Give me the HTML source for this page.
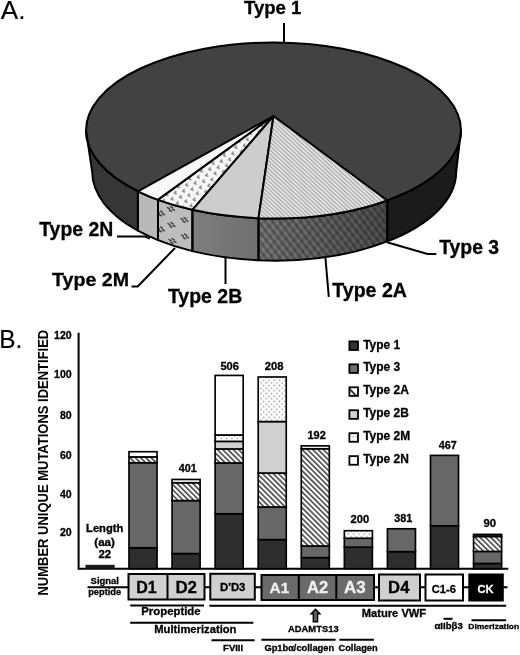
<!DOCTYPE html>
<html><head><meta charset="utf-8"><style>
html,body{margin:0;padding:0;background:#fff;width:520px;height:655px;overflow:hidden}
svg{display:block;font-family:"Liberation Sans",sans-serif;filter:grayscale(1) blur(0.35px)}
</style></head><body>
<svg width="520" height="655" viewBox="0 0 520 655">
<defs>
<pattern id="hatchTop" patternUnits="userSpaceOnUse" width="2.95" height="2.95" patternTransform="rotate(-47)">
  <rect width="2.95" height="2.95" fill="#f0f0f0"/><rect width="1.4" height="2.95" fill="#a6a6a6"/>
</pattern>
<pattern id="hatchSide" patternUnits="userSpaceOnUse" width="5.5" height="5.5" patternTransform="rotate(-38)">
  <rect width="5.5" height="5.5" fill="none"/><rect width="2.6" height="5.5" fill="rgba(0,0,0,0.26)"/>
</pattern>
<pattern id="hatchSide2" patternUnits="userSpaceOnUse" width="7" height="7" patternTransform="rotate(40)">
  <rect width="3.2" height="7" fill="rgba(0,0,0,0.12)"/>
</pattern>
<linearGradient id="g2A" gradientUnits="userSpaceOnUse" x1="258" y1="0" x2="386" y2="0">
  <stop offset="0" stop-color="#7a7a7a"/><stop offset="1" stop-color="#505050"/>
</linearGradient>
<linearGradient id="g2B" gradientUnits="userSpaceOnUse" x1="193" y1="0" x2="258" y2="0">
  <stop offset="0" stop-color="#7e7e7e"/><stop offset="1" stop-color="#6f6f6f"/>
</linearGradient>
<pattern id="dotTop" patternUnits="userSpaceOnUse" width="8.6" height="10.6" patternTransform="rotate(-12)">
  <rect width="8.6" height="10.6" fill="#f7f7f7"/><path d="M3.6 0.8 L1.4 2.4 L3.6 4.0 M7.9 6.1 L5.7 7.7 L7.9 9.3" stroke="#7e7e7e" stroke-width="1.3" fill="none"/>
</pattern>
<pattern id="legHatch" patternUnits="userSpaceOnUse" width="12" height="12" patternTransform="translate(349.4,0) rotate(-45)">
  <rect width="12" height="12" fill="#ffffff"/><rect width="2" height="12" fill="#3a3a3a"/>
</pattern>
<pattern id="legDots" patternUnits="userSpaceOnUse" width="4" height="4">
  <rect width="4" height="4" fill="#ffffff"/><circle cx="1" cy="1" r="0.8" fill="#999"/>
</pattern>
<pattern id="barHatch" patternUnits="userSpaceOnUse" width="3.75" height="3.75" patternTransform="rotate(-45)">
  <rect width="3.75" height="3.75" fill="#ffffff"/><rect width="1.45" height="3.75" fill="#333"/>
</pattern>
<pattern id="barDots" patternUnits="userSpaceOnUse" width="5.3" height="5.3">
  <rect width="5.3" height="5.3" fill="#ffffff"/><circle cx="1.3" cy="1.3" r="0.9" fill="#a0a0a0"/><circle cx="3.95" cy="3.95" r="0.9" fill="#a0a0a0"/>
</pattern>
</defs>
<rect width="520" height="655" fill="#fff"/>
<ellipse cx="273.5" cy="130.5" rx="187.5" ry="88.0" fill="#424242" stroke="#000" stroke-width="2.0"/>
<path d="M86.00,130.50 A187.5,88.0 0 0 0 137.90,191.28 L137.90,230.65 A182.0,88.8 0 0 1 92.20,171.80 Z" fill="#363636"/>
<path d="M137.90,191.28 A187.5,88.0 0 0 0 158.00,199.82 L158.00,240.15 A182.0,88.8 0 0 1 137.90,230.65 Z" fill="#b9b9b9"/>
<path d="M158.00,199.82 A187.5,88.0 0 0 0 192.40,209.84 L192.40,251.13 A182.0,88.8 0 0 1 158.00,240.15 Z" fill="#bdbdbd"/>
<path d="M192.40,209.84 A187.5,88.0 0 0 0 258.50,218.22 L258.50,260.27 A182.0,88.8 0 0 1 192.40,251.13 Z" fill="url(#g2B)"/>
<path d="M258.50,218.22 A187.5,88.0 0 0 0 387.30,200.44 L387.30,241.37 A182.0,88.8 0 0 1 258.50,260.27 Z" fill="url(#g2A)"/>
<path d="M387.30,200.44 A187.5,88.0 0 0 0 461.00,130.50 L456.20,171.80 A182.0,88.8 0 0 1 387.30,241.37 Z" fill="#1b1b1b"/>
<path d="M258.50,218.22 A187.5,88.0 0 0 0 387.30,200.44 L387.30,241.37 A182.0,88.8 0 0 1 258.50,260.27 Z" fill="url(#hatchSide)"/>
<path d="M258.50,218.22 A187.5,88.0 0 0 0 387.30,200.44 L387.30,241.37 A182.0,88.8 0 0 1 258.50,260.27 Z" fill="url(#hatchSide2)"/>
<clipPath id="c2M"><path d="M158.00,199.82 A187.5,88.0 0 0 0 192.40,209.84 L192.40,251.13 A182.0,88.8 0 0 1 158.00,240.15 Z"/></clipPath>
<path clip-path="url(#c2M)" d="M157.4,212.0 l2,1.2 M160.4,211.0 l2,1.2 M159.4,214.6 l2,1.2 M162.4,213.6 l2,1.2 M167.4,207.5 l2,1.2 M170.4,206.5 l2,1.2 M169.4,210.1 l2,1.2 M172.4,209.1 l2,1.2 M167.9,223.5 l2,1.2 M170.9,222.5 l2,1.2 M169.9,226.1 l2,1.2 M172.9,225.1 l2,1.2 M168.9,239.5 l2,1.2 M171.9,238.5 l2,1.2 M170.9,242.1 l2,1.2 M173.9,241.1 l2,1.2 M180.9,218.5 l2,1.2 M183.9,217.5 l2,1.2 M182.9,221.1 l2,1.2 M185.9,220.1 l2,1.2 M181.4,235.0 l2,1.2 M184.4,234.0 l2,1.2 M183.4,237.6 l2,1.2 M186.4,236.6 l2,1.2 M157.4,228.0 l2,1.2 M160.4,227.0 l2,1.2 M159.4,230.6 l2,1.2 M162.4,229.6 l2,1.2 M157.4,244.0 l2,1.2 M160.4,243.0 l2,1.2 M159.4,246.6 l2,1.2 M162.4,245.6 l2,1.2 " stroke="#3a3a3a" stroke-width="1.4" stroke-linecap="round" fill="none"/>
<path d="M86.00,130.50 A187.5,88.0 0 0 0 137.90,191.28 L137.90,230.65 A182.0,88.8 0 0 1 92.20,171.80 Z" fill="none" stroke="#000" stroke-width="2.0" stroke-linejoin="round"/>
<path d="M137.90,191.28 A187.5,88.0 0 0 0 158.00,199.82 L158.00,240.15 A182.0,88.8 0 0 1 137.90,230.65 Z" fill="none" stroke="#000" stroke-width="2.0" stroke-linejoin="round"/>
<path d="M158.00,199.82 A187.5,88.0 0 0 0 192.40,209.84 L192.40,251.13 A182.0,88.8 0 0 1 158.00,240.15 Z" fill="none" stroke="#000" stroke-width="2.0" stroke-linejoin="round"/>
<path d="M192.40,209.84 A187.5,88.0 0 0 0 258.50,218.22 L258.50,260.27 A182.0,88.8 0 0 1 192.40,251.13 Z" fill="none" stroke="#000" stroke-width="2.0" stroke-linejoin="round"/>
<path d="M258.50,218.22 A187.5,88.0 0 0 0 387.30,200.44 L387.30,241.37 A182.0,88.8 0 0 1 258.50,260.27 Z" fill="none" stroke="#000" stroke-width="2.0" stroke-linejoin="round"/>
<path d="M387.30,200.44 A187.5,88.0 0 0 0 461.00,130.50 L456.20,171.80 A182.0,88.8 0 0 1 387.30,241.37 Z" fill="none" stroke="#000" stroke-width="2.0" stroke-linejoin="round"/>
<path d="M273.5,116.0 L137.90,191.28 A187.5,88.0 0 0 0 158.00,199.82 Z" fill="#f8f8f8" stroke="#000" stroke-width="2.0" stroke-linejoin="round"/>
<path d="M273.5,116.0 L158.00,199.82 A187.5,88.0 0 0 0 192.40,209.84 Z" fill="url(#dotTop)" stroke="#000" stroke-width="2.0" stroke-linejoin="round"/>
<path d="M273.5,116.0 L192.40,209.84 A187.5,88.0 0 0 0 258.50,218.22 Z" fill="#cdcdcd" stroke="#000" stroke-width="2.0" stroke-linejoin="round"/>
<path d="M273.5,116.0 L258.50,218.22 A187.5,88.0 0 0 0 387.30,200.44 Z" fill="url(#hatchTop)" stroke="#000" stroke-width="2.0" stroke-linejoin="round"/>
<path d="M284,23 L284,42" stroke="#000" stroke-width="2" fill="none"/>
<path d="M117,236.5 L145,236.5 L150,238.5" stroke="#000" stroke-width="2" fill="none"/>
<path d="M131.5,286.4 L137.7,286.4 L175,248" stroke="#000" stroke-width="2" fill="none"/>
<path d="M225.5,257.5 L225.5,284" stroke="#000" stroke-width="2" fill="none"/>
<path d="M325.4,257.5 L328.8,296.8" stroke="#000" stroke-width="2" fill="none"/>
<path d="M387,242.2 L427.5,253.9 L436.3,253.9" stroke="#000" stroke-width="2" fill="none"/>
<text x="243.91" y="14.40" font-family="Liberation Sans" font-weight="bold" font-size="18.72" fill="#000" stroke="#000" stroke-width="0.3" textLength="57.53" lengthAdjust="spacingAndGlyphs" >Type 1</text>
<text x="39.21" y="236.40" font-family="Liberation Sans" font-weight="bold" font-size="19.56" fill="#000" stroke="#000" stroke-width="0.3" textLength="74.08" lengthAdjust="spacingAndGlyphs" >Type 2N</text>
<text x="52.00" y="285.60" font-family="Liberation Sans" font-weight="bold" font-size="19.23" fill="#000" stroke="#000" stroke-width="0.3" textLength="77.01" lengthAdjust="spacingAndGlyphs" >Type 2M</text>
<text x="167.91" y="302.50" font-family="Liberation Sans" font-weight="bold" font-size="19.38" fill="#000" stroke="#000" stroke-width="0.3" textLength="74.29" lengthAdjust="spacingAndGlyphs" >Type 2B</text>
<text x="332.30" y="296.70" font-family="Liberation Sans" font-weight="bold" font-size="19.35" fill="#000" stroke="#000" stroke-width="0.3" textLength="74.60" lengthAdjust="spacingAndGlyphs" >Type 2A</text>
<text x="439.21" y="254.00" font-family="Liberation Sans" font-weight="bold" font-size="19.40" fill="#000" stroke="#000" stroke-width="0.3" textLength="59.95" lengthAdjust="spacingAndGlyphs" >Type 3</text>
<text x="0.77" y="18.80" font-family="Liberation Sans" font-weight="normal" font-size="25.83" fill="#000" stroke="#000" stroke-width="0.15" textLength="24.71" lengthAdjust="spacingAndGlyphs" >A.</text>
<text x="-0.75" y="348.00" font-family="Liberation Sans" font-weight="normal" font-size="24.96" fill="#000" stroke="#000" stroke-width="0.15" textLength="23.07" lengthAdjust="spacingAndGlyphs" >B.</text>
<path d="M78.6,332.8 L78.6,568.7 L508.3,568.7" stroke="#000" stroke-width="2" fill="none"/>
<text x="54.07" y="338.65" font-family="Liberation Sans" font-weight="bold" font-size="10.60" fill="#000" stroke="#000" stroke-width="0.3" textLength="17.69" lengthAdjust="spacingAndGlyphs" >120</text>
<text x="54.07" y="378.25" font-family="Liberation Sans" font-weight="bold" font-size="10.60" fill="#000" stroke="#000" stroke-width="0.3" textLength="17.69" lengthAdjust="spacingAndGlyphs" >100</text>
<text x="59.96" y="418.85" font-family="Liberation Sans" font-weight="bold" font-size="10.60" fill="#000" stroke="#000" stroke-width="0.3" textLength="11.79" lengthAdjust="spacingAndGlyphs" >80</text>
<text x="59.96" y="458.65" font-family="Liberation Sans" font-weight="bold" font-size="10.60" fill="#000" stroke="#000" stroke-width="0.3" textLength="11.79" lengthAdjust="spacingAndGlyphs" >60</text>
<text x="59.96" y="497.65" font-family="Liberation Sans" font-weight="bold" font-size="10.60" fill="#000" stroke="#000" stroke-width="0.3" textLength="11.79" lengthAdjust="spacingAndGlyphs" >40</text>
<text x="59.96" y="535.65" font-family="Liberation Sans" font-weight="bold" font-size="10.60" fill="#000" stroke="#000" stroke-width="0.3" textLength="11.79" lengthAdjust="spacingAndGlyphs" >20</text>
<text transform="translate(47.9,595.54) rotate(-90)" x="0" y="0" font-family="Liberation Sans" font-weight="bold" font-size="14.0" textLength="265.80" lengthAdjust="spacingAndGlyphs">NUMBER UNIQUE MUTATIONS IDENTIFIED</text>
<rect x="128.99" y="547.74" width="28.05" height="20.96" fill="#2e2e2e" stroke="#000" stroke-width="1.65"/>
<rect x="128.99" y="462.72" width="28.05" height="85.02" fill="#676767" stroke="#000" stroke-width="1.65"/>
<rect x="128.99" y="456.90" width="28.05" height="5.82" fill="url(#barHatch)" stroke="#000" stroke-width="1.65"/>
<rect x="128.99" y="451.71" width="28.05" height="5.19" fill="#ffffff" stroke="#000" stroke-width="1.65"/>
<rect x="172.06" y="553.56" width="28.05" height="15.14" fill="#2e2e2e" stroke="#000" stroke-width="1.65"/>
<rect x="172.06" y="500.57" width="28.05" height="52.99" fill="#676767" stroke="#000" stroke-width="1.65"/>
<rect x="172.06" y="482.71" width="28.05" height="17.86" fill="url(#barHatch)" stroke="#000" stroke-width="1.65"/>
<rect x="172.06" y="479.46" width="28.05" height="3.25" fill="#ffffff" stroke="#000" stroke-width="1.65"/>
<rect x="215.13" y="513.77" width="28.05" height="54.93" fill="#2e2e2e" stroke="#000" stroke-width="1.65"/>
<rect x="215.13" y="462.92" width="28.05" height="50.85" fill="#676767" stroke="#000" stroke-width="1.65"/>
<rect x="215.13" y="448.94" width="28.05" height="13.98" fill="url(#barHatch)" stroke="#000" stroke-width="1.65"/>
<rect x="215.13" y="441.37" width="28.05" height="7.57" fill="#d0d0d0" stroke="#000" stroke-width="1.65"/>
<rect x="215.13" y="434.97" width="28.05" height="6.41" fill="url(#barDots)" stroke="#000" stroke-width="1.65"/>
<rect x="215.13" y="375.43" width="28.05" height="59.54" fill="#ffffff" stroke="#000" stroke-width="1.65"/>
<rect x="258.20" y="539.59" width="28.05" height="29.12" fill="#2e2e2e" stroke="#000" stroke-width="1.65"/>
<rect x="258.20" y="506.98" width="28.05" height="32.61" fill="#676767" stroke="#000" stroke-width="1.65"/>
<rect x="258.20" y="473.01" width="28.05" height="33.97" fill="url(#barHatch)" stroke="#000" stroke-width="1.65"/>
<rect x="258.20" y="421.57" width="28.05" height="51.44" fill="#d0d0d0" stroke="#000" stroke-width="1.65"/>
<rect x="258.20" y="376.98" width="28.05" height="44.59" fill="url(#barDots)" stroke="#000" stroke-width="1.65"/>
<rect x="301.27" y="557.64" width="28.05" height="11.06" fill="#2e2e2e" stroke="#000" stroke-width="1.65"/>
<rect x="301.27" y="545.99" width="28.05" height="11.65" fill="#676767" stroke="#000" stroke-width="1.65"/>
<rect x="301.27" y="448.75" width="28.05" height="97.24" fill="url(#barHatch)" stroke="#000" stroke-width="1.65"/>
<rect x="301.27" y="445.88" width="28.05" height="2.86" fill="#ffffff" stroke="#000" stroke-width="1.65"/>
<rect x="344.34" y="547.15" width="28.05" height="21.55" fill="#2e2e2e" stroke="#000" stroke-width="1.65"/>
<rect x="344.34" y="538.23" width="28.05" height="8.93" fill="#676767" stroke="#000" stroke-width="1.65"/>
<rect x="344.34" y="530.71" width="28.05" height="7.52" fill="url(#barDots)" stroke="#000" stroke-width="1.65"/>
<rect x="387.42" y="551.62" width="28.05" height="17.08" fill="#2e2e2e" stroke="#000" stroke-width="1.65"/>
<rect x="387.42" y="528.76" width="28.05" height="22.86" fill="#676767" stroke="#000" stroke-width="1.65"/>
<rect x="430.48" y="525.80" width="28.05" height="42.90" fill="#2e2e2e" stroke="#000" stroke-width="1.65"/>
<rect x="430.48" y="455.39" width="28.05" height="70.41" fill="#676767" stroke="#000" stroke-width="1.65"/>
<rect x="473.56" y="563.46" width="28.05" height="5.24" fill="#2e2e2e" stroke="#000" stroke-width="1.65"/>
<rect x="473.56" y="551.43" width="28.05" height="12.03" fill="#676767" stroke="#000" stroke-width="1.65"/>
<rect x="473.56" y="536.48" width="28.05" height="14.95" fill="url(#barHatch)" stroke="#000" stroke-width="1.65"/>
<rect x="473.56" y="534.39" width="28.05" height="2.09" fill="#2e2e2e" stroke="#000" stroke-width="1.65"/>
<rect x="85.5" y="564.82" width="29.2" height="3.88" fill="#1a1a1a"/>
<text x="220.47" y="369.50" font-family="Liberation Sans" font-weight="bold" font-size="11.03" fill="#000" stroke="#000" stroke-width="0.3" textLength="18.46" lengthAdjust="spacingAndGlyphs" >506</text>
<text x="178.84" y="471.70" font-family="Liberation Sans" font-weight="bold" font-size="10.28" fill="#000" stroke="#000" stroke-width="0.3" textLength="17.87" lengthAdjust="spacingAndGlyphs" >401</text>
<text x="264.81" y="370.40" font-family="Liberation Sans" font-weight="bold" font-size="11.41" fill="#000" stroke="#000" stroke-width="0.3" textLength="18.77" lengthAdjust="spacingAndGlyphs" >208</text>
<text x="307.49" y="439.00" font-family="Liberation Sans" font-weight="bold" font-size="10.41" fill="#000" stroke="#000" stroke-width="0.3" textLength="18.29" lengthAdjust="spacingAndGlyphs" >192</text>
<text x="350.51" y="523.00" font-family="Liberation Sans" font-weight="bold" font-size="10.92" fill="#000" stroke="#000" stroke-width="0.3" textLength="18.57" lengthAdjust="spacingAndGlyphs" >200</text>
<text x="394.23" y="521.60" font-family="Liberation Sans" font-weight="bold" font-size="11.45" fill="#000" stroke="#000" stroke-width="0.3" textLength="18.18" lengthAdjust="spacingAndGlyphs" >381</text>
<text x="438.64" y="449.20" font-family="Liberation Sans" font-weight="bold" font-size="10.92" fill="#000" stroke="#000" stroke-width="0.3" textLength="18.09" lengthAdjust="spacingAndGlyphs" >467</text>
<text x="483.40" y="527.20" font-family="Liberation Sans" font-weight="bold" font-size="11.65" fill="#000" stroke="#000" stroke-width="0.3" textLength="12.57" lengthAdjust="spacingAndGlyphs" >90</text>
<text x="86.07" y="532.10" font-family="Liberation Sans" font-weight="bold" font-size="10.48" fill="#000" stroke="#000" stroke-width="0.3" textLength="37.23" lengthAdjust="spacingAndGlyphs" >Length</text>
<text x="94.32" y="545.80" font-family="Liberation Sans" font-weight="bold" font-size="10.50" fill="#000" stroke="#000" stroke-width="0.3" textLength="20.54" lengthAdjust="spacingAndGlyphs" >(aa)</text>
<text x="98.50" y="558.40" font-family="Liberation Sans" font-weight="bold" font-size="10.63" fill="#000" stroke="#000" stroke-width="0.3" textLength="12.68" lengthAdjust="spacingAndGlyphs" >22</text>
<rect x="349.4" y="341.40" width="8.6" height="8.6" fill="#333333" stroke="#000" stroke-width="1.8"/>
<text x="363.18" y="348.50" font-family="Liberation Sans" font-weight="bold" font-size="11.95" fill="#000" stroke="#000" stroke-width="0.3" textLength="36.97" lengthAdjust="spacingAndGlyphs" >Type 1</text>
<rect x="349.4" y="364.35" width="8.6" height="8.6" fill="#6e6e6e" stroke="#000" stroke-width="1.8"/>
<text x="363.18" y="371.45" font-family="Liberation Sans" font-weight="bold" font-size="11.95" fill="#000" stroke="#000" stroke-width="0.3" textLength="36.97" lengthAdjust="spacingAndGlyphs" >Type 3</text>
<rect x="349.4" y="387.30" width="8.6" height="8.6" fill="url(#legHatch)" stroke="#000" stroke-width="1.8"/>
<text x="363.18" y="394.40" font-family="Liberation Sans" font-weight="bold" font-size="11.95" fill="#000" stroke="#000" stroke-width="0.3" textLength="45.60" lengthAdjust="spacingAndGlyphs" >Type 2A</text>
<rect x="349.4" y="410.25" width="8.6" height="8.6" fill="#d0d0d0" stroke="#000" stroke-width="1.8"/>
<text x="363.18" y="417.35" font-family="Liberation Sans" font-weight="bold" font-size="11.95" fill="#000" stroke="#000" stroke-width="0.3" textLength="45.60" lengthAdjust="spacingAndGlyphs" >Type 2B</text>
<rect x="349.4" y="433.20" width="8.6" height="8.6" fill="url(#legDots)" stroke="#000" stroke-width="1.8"/>
<text x="363.18" y="440.30" font-family="Liberation Sans" font-weight="bold" font-size="11.95" fill="#000" stroke="#000" stroke-width="0.3" textLength="46.93" lengthAdjust="spacingAndGlyphs" >Type 2M</text>
<rect x="349.4" y="456.15" width="8.6" height="8.6" fill="#ffffff" stroke="#000" stroke-width="1.8"/>
<text x="363.18" y="463.25" font-family="Liberation Sans" font-weight="bold" font-size="11.95" fill="#000" stroke="#000" stroke-width="0.3" textLength="45.60" lengthAdjust="spacingAndGlyphs" >Type 2N</text>
<path d="M87.5,587.2 L128,587.2" stroke="#000" stroke-width="2"/>
<path d="M204,587.2 L211,587.2 M255,587.2 L262,587.2 M374,587.2 L379,587.2 M420,587.2 L425,587.2 M463,587.2 L469,587.2 M503,587.2 L507.5,587.2" stroke="#000" stroke-width="2"/>
<text x="90.62" y="584.20" font-family="Liberation Sans" font-weight="bold" font-size="9.00" fill="#000" stroke="#000" stroke-width="0.3" textLength="28.35" lengthAdjust="spacingAndGlyphs" >Signal</text>
<text x="88.20" y="595.30" font-family="Liberation Sans" font-weight="bold" font-size="8.84" fill="#000" stroke="#000" stroke-width="0.3" textLength="32.93" lengthAdjust="spacingAndGlyphs" >peptide</text>
<rect x="128.5" y="574" width="76" height="25.5" fill="#d0d0d0" stroke="#000" stroke-width="2"/>
<path d="M167.5,574 L167.5,599.5" stroke="#000" stroke-width="2"/>
<rect x="210.3" y="573.8" width="44.5" height="25.8" fill="#d0d0d0" stroke="#000" stroke-width="2"/>
<rect x="261.5" y="575" width="112.5" height="25" fill="#6a6a6a" stroke="#000" stroke-width="2"/>
<path d="M298.8,575 L298.8,600 M336.3,575 L336.3,600" stroke="#000" stroke-width="2"/>
<rect x="379" y="574.5" width="41" height="26" fill="#d0d0d0" stroke="#000" stroke-width="2"/>
<rect x="425.5" y="574.5" width="37.5" height="26" fill="#ffffff" stroke="#000" stroke-width="2"/>
<rect x="469.3" y="574.5" width="33.5" height="26" fill="#000000" stroke="#000" stroke-width="2"/>
<text x="136.26" y="592.70" font-family="Liberation Sans" font-weight="bold" font-size="16.21" fill="#000" stroke="#000" stroke-width="0.3" textLength="20.50" lengthAdjust="spacingAndGlyphs" >D1</text>
<text x="175.40" y="592.70" font-family="Liberation Sans" font-weight="bold" font-size="16.51" fill="#000" stroke="#000" stroke-width="0.3" textLength="21.58" lengthAdjust="spacingAndGlyphs" >D2</text>
<text x="220.01" y="591.40" font-family="Liberation Sans" font-weight="bold" font-size="11.32" fill="#000" stroke="#000" stroke-width="0.3" textLength="25.42" lengthAdjust="spacingAndGlyphs" >D'D3</text>
<text x="269.62" y="592.70" font-family="Liberation Sans" font-weight="bold" font-size="15.19" fill="#f0f0f0" stroke="#f0f0f0" stroke-width="0.3" textLength="19.57" lengthAdjust="spacingAndGlyphs" >A1</text>
<text x="307.09" y="592.70" font-family="Liberation Sans" font-weight="bold" font-size="15.69" fill="#f0f0f0" stroke="#f0f0f0" stroke-width="0.3" textLength="21.13" lengthAdjust="spacingAndGlyphs" >A2</text>
<text x="344.08" y="592.70" font-family="Liberation Sans" font-weight="bold" font-size="15.86" fill="#f0f0f0" stroke="#f0f0f0" stroke-width="0.3" textLength="21.57" lengthAdjust="spacingAndGlyphs" >A3</text>
<text x="388.12" y="593.30" font-family="Liberation Sans" font-weight="bold" font-size="16.53" fill="#000" stroke="#000" stroke-width="0.3" textLength="21.32" lengthAdjust="spacingAndGlyphs" >D4</text>
<text x="431.86" y="592.50" font-family="Liberation Sans" font-weight="bold" font-size="11.62" fill="#000" stroke="#000" stroke-width="0.3" textLength="24.06" lengthAdjust="spacingAndGlyphs" >C1-6</text>
<text x="477.55" y="592.50" font-family="Liberation Sans" font-weight="bold" font-size="11.65" fill="#ffffff" stroke="#ffffff" stroke-width="0.3" textLength="16.11" lengthAdjust="spacingAndGlyphs" >CK</text>
<path d="M130.2,605.4 L204,605.4" stroke="#000" stroke-width="2"/>
<path d="M209.4,605.8 L506.2,605.8" stroke="#000" stroke-width="2"/>
<path d="M130.2,622.8 L253.3,622.8" stroke="#000" stroke-width="2"/>
<path d="M211.5,640.2 L254.6,640.2" stroke="#000" stroke-width="2"/>
<path d="M261.3,639.8 L335.6,639.8" stroke="#000" stroke-width="2"/>
<path d="M339.4,639.8 L373.9,639.8" stroke="#000" stroke-width="2"/>
<path d="M443.5,618.8 L452.5,618.8" stroke="#000" stroke-width="2"/>
<path d="M471.5,620.2 L506.1,620.2" stroke="#000" stroke-width="2"/>
<text x="141.26" y="614.70" font-family="Liberation Sans" font-weight="bold" font-size="10.72" fill="#000" stroke="#000" stroke-width="0.3" textLength="59.37" lengthAdjust="spacingAndGlyphs" >Propeptide</text>
<text x="154.27" y="632.50" font-family="Liberation Sans" font-weight="bold" font-size="11.19" fill="#000" stroke="#000" stroke-width="0.3" textLength="82.19" lengthAdjust="spacingAndGlyphs" >Multimerization</text>
<text x="223.08" y="650.50" font-family="Liberation Sans" font-weight="bold" font-size="9.24" fill="#000" stroke="#000" stroke-width="0.3" textLength="20.05" lengthAdjust="spacingAndGlyphs" >FVIII</text>
<text x="361.67" y="617.00" font-family="Liberation Sans" font-weight="bold" font-size="11.09" fill="#000" stroke="#000" stroke-width="0.3" textLength="64.55" lengthAdjust="spacingAndGlyphs" >Mature VWF</text>
<text x="287.97" y="631.70" font-family="Liberation Sans" font-weight="bold" font-size="9.91" fill="#000" stroke="#000" stroke-width="0.3" textLength="50.66" lengthAdjust="spacingAndGlyphs" >ADAMTS13</text>
<text x="264.43" y="650.50" font-family="Liberation Sans" font-weight="bold" font-size="8.91" fill="#000" stroke="#000" stroke-width="0.3" textLength="69.63" lengthAdjust="spacingAndGlyphs" >Gp1bα/collagen</text>
<text x="338.53" y="650.50" font-family="Liberation Sans" font-weight="bold" font-size="8.91" fill="#000" stroke="#000" stroke-width="0.3" textLength="39.15" lengthAdjust="spacingAndGlyphs" >Collagen</text>
<text x="434.41" y="629.00" font-family="Liberation Sans" font-weight="bold" font-size="9.31" fill="#000" stroke="#000" stroke-width="0.3" textLength="28.45" lengthAdjust="spacingAndGlyphs" >αIIbβ3</text>
<text x="468.35" y="629.00" font-family="Liberation Sans" font-weight="bold" font-size="7.82" fill="#000" stroke="#000" stroke-width="0.3" textLength="50.77" lengthAdjust="spacingAndGlyphs" >Dimerization</text>
<path d="M315.5,609.2 L319.9,613.8 L317.6,613.8 L317.6,621.8 L313.3,621.8 L313.3,613.8 L311.1,613.8 Z" fill="#5e5e5e" stroke="#000" stroke-width="1.4" stroke-linejoin="miter"/>
</svg>
</body></html>
